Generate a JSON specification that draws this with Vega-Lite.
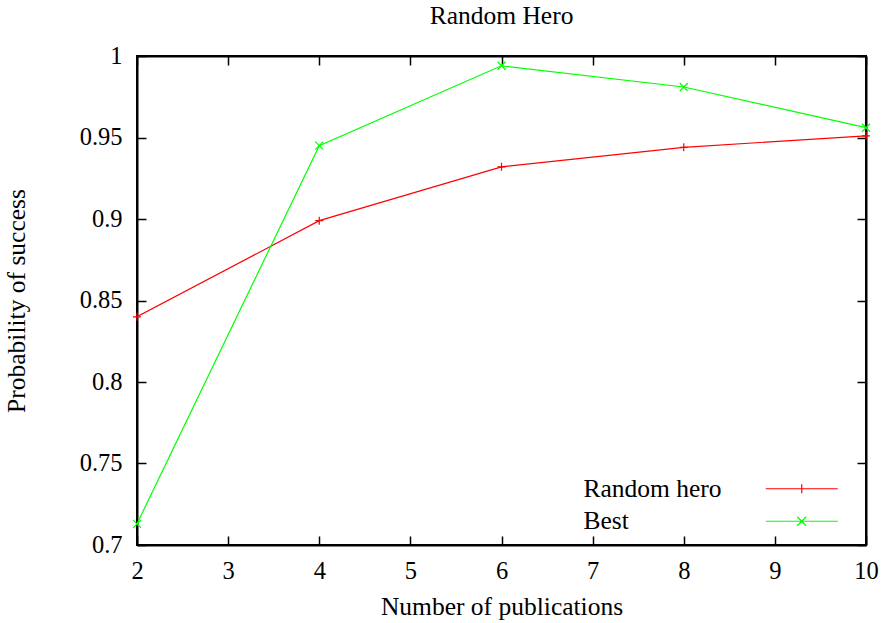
{
  "$schema": "https://vega.github.io/schema/vega-lite/v6.json",
  "width": 729,
  "height": 489,
  "autosize": {"type": "none"},
  "padding": {"left": 137, "top": 56, "right": 17, "bottom": 78},
  "background": "white",
  "title": {"text": "Random Hero", "font": "Liberation Serif", "fontSize": 25.5, "fontWeight": "normal", "color": "black", "offset": 14, "anchor": "middle"},
  "config": {
    "view": {"stroke": "black", "strokeWidth": 2},
    "axis": {
      "domainColor": "black", "domainWidth": 2, "tickColor": "black", "tickWidth": 1.5, "tickSize": -9,
      "grid": false, "labelFont": "Liberation Serif", "labelFontSize": 24.5, "labelColor": "black",
      "titleFont": "Liberation Serif", "titleFontSize": 25.5, "titleFontWeight": "normal", "titleColor": "black"
    }
  },
  "data": {"values": [
    {"n": 2, "p": 0.840, "series": "Random hero"},
    {"n": 4, "p": 0.899, "series": "Random hero"},
    {"n": 6, "p": 0.932, "series": "Random hero"},
    {"n": 8, "p": 0.944, "series": "Random hero"},
    {"n": 10, "p": 0.951, "series": "Random hero"},
    {"n": 2, "p": 0.713, "series": "Best"},
    {"n": 4, "p": 0.945, "series": "Best"},
    {"n": 6, "p": 0.994, "series": "Best"},
    {"n": 8, "p": 0.981, "series": "Best"},
    {"n": 10, "p": 0.956, "series": "Best"}
  ]},
  "encoding": {
    "color": {"field": "series", "type": "nominal", "scale": {"domain": ["Random hero", "Best"], "range": ["#ff0000", "#00ff00"]},
      "legend": {
        "orient": "none", "legendX": 652, "legendY": 420, "title": null, "padding": 0,
        "labelFont": "Liberation Serif", "labelFontSize": 25.5, "labelColor": "black", "labelAlign": "left",
        "labelOffset": -231, "rowPadding": 5.5, "symbolSize": 81, "symbolStrokeWidth": 1.2, "symbolOpacity": 1,
        "encode": {"symbols": {"update": {
          "shape": {"signal": "datum.value === 'Best' ? 'M-8,0H8M-1,-1L1,1M-1,1L1,-1' : 'M-8,0H8M0,-1V1'"},
          "size": {"value": 81},
          "fill": {"value": "transparent"}
        }}}
      }
    }
  },
  "layer": [
    {
      "mark": {"type": "line", "strokeWidth": 1.2, "clip": true},
      "encoding": {
        "x": {"field": "n", "type": "quantitative", "scale": {"domain": [2, 10], "nice": false, "zero": false},
              "axis": {"orient": "bottom", "values": [2,3,4,5,6,7,8,9,10], "format": "d", "title": "Number of publications", "labelPadding": 23, "titlePadding": 12, "labelFlush": false}},
        "y": {"field": "p", "type": "quantitative", "scale": {"domain": [0.7, 1], "nice": false, "zero": false},
              "axis": {"orient": "left", "values": [0.7,0.75,0.8,0.85,0.9,0.95,1], "format": "~g", "title": "Probability of success", "labelPadding": 24, "titlePadding": 50, "labelFlush": false}}
      }
    },
    {
      "transform": [{"filter": "datum.series === 'Random hero'"}],
      "mark": {"type": "point", "filled": false, "strokeWidth": 1.2, "size": 64, "opacity": 1, "shape": "M-1,0H1M0,-1V1"},
      "encoding": {
        "x": {"field": "n", "type": "quantitative", "scale": {"domain": [2, 10], "nice": false, "zero": false},
              "axis": {"orient": "top", "values": [2,3,4,5,6,7,8,9,10], "labels": false, "title": null}},
        "y": {"field": "p", "type": "quantitative", "scale": {"domain": [0.7, 1], "nice": false, "zero": false},
              "axis": {"orient": "right", "values": [0.7,0.75,0.8,0.85,0.9,0.95,1], "labels": false, "title": null}}
      }
    },
    {
      "transform": [{"filter": "datum.series === 'Best'"}],
      "mark": {"type": "point", "filled": false, "strokeWidth": 1.2, "size": 64, "opacity": 1, "shape": "M-1,-1L1,1M-1,1L1,-1"},
      "encoding": {
        "x": {"field": "n", "type": "quantitative", "scale": {"domain": [2, 10], "nice": false, "zero": false}, "axis": null},
        "y": {"field": "p", "type": "quantitative", "scale": {"domain": [0.7, 1], "nice": false, "zero": false}, "axis": null}
      }
    }
  ],
  "resolve": {"scale": {"x": "independent", "y": "independent"}}
}
